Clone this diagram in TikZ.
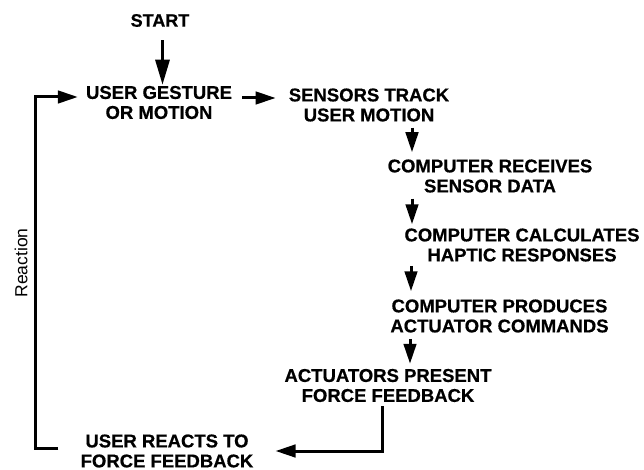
\documentclass[tikz,border=0pt]{standalone}
\usepackage{fontspec}
\setmainfont{Liberation Sans}
\newfontfamily\stagefont{Liberation Sans}[UprightFont=*-Bold, FakeBold=0.6]
\usetikzlibrary{arrows.meta}
\begin{document}
\begin{tikzpicture}[x=1pt,y=-1pt,
  stage/.style={font=\fontsize{18.5}{20}\selectfont\stagefont, align=center, inner sep=0pt},
  flow/.style={line width=3pt, -{Triangle[length=20pt,width=12.5pt]}},
  bigflow/.style={line width=3pt, -{Triangle[length=25pt,width=14pt]}}]
\useasboundingbox (0,0) rectangle (644,470);

% stages of the haptic loop
\node[stage, font=\fontsize{18}{20}\selectfont\stagefont] (start) at (160,20.5) {START};
\node[stage] (gesture)    at (159,102.5) {USER GESTURE\\OR MOTION};
\node[stage] (sensors)    at (369,105)   {SENSORS TRACK\\USER MOTION};
\node[stage] (receives)   at (490,176)   {COMPUTER RECEIVES\\SENSOR DATA};
\node[stage] (calculates) at (522,245)   {COMPUTER CALCULATES\\HAPTIC RESPONSES};
\node[stage] (produces)   at (499.5,316) {COMPUTER PRODUCES\\ACTUATOR COMMANDS};
\node[stage] (actuators)  at (388,385.5) {ACTUATORS PRESENT\\FORCE FEEDBACK};
\node[stage] (reacts)     at (167,451)   {USER REACTS TO\\FORCE FEEDBACK};
\node[rotate=90, inner sep=0pt, font=\fontsize{17.5}{20}\selectfont] (reaction) at (21,263) {Reaction};

% helper columns
\coordinate (col) at (412,0);
\coordinate (loopx) at (35,0);
\coordinate (gin) at ([xshift=-8pt,yshift=5.5pt]gesture.west);

% connectors
\draw[bigflow, shorten <=13pt, shorten >=1pt] ([xshift=2.5pt]start.south) -- ([xshift=2.5pt]start.south |- gesture.north);
\draw[flow, shorten <=10pt, shorten >=13pt] ([yshift=4.5pt]gesture.east) -- ([yshift=4.5pt]gesture.east -| sensors.west);
\draw[flow, shorten <=6pt, shorten >=7pt] (sensors.south -| col) -- (receives.north -| col);
\draw[flow, shorten <=6pt, shorten >=4pt] (receives.south -| col) -- (calculates.north -| col);
\draw[flow, shorten <=4pt, shorten >=8pt] ([xshift=-1pt]calculates.south -| col) -- ([xshift=-1pt]produces.north -| col);
\draw[flow, shorten <=6pt, shorten >=5pt] ([xshift=-2pt]produces.south -| col) -- ([xshift=-2pt]actuators.north -| col);
\draw[flow, shorten <=4pt] ([xshift=-6pt]actuators.south) |- ([xshift=22pt]reacts.east);
\draw[flow] ([xshift=-22pt,yshift=3pt]reacts.west) -| (loopx |- gin) -- (gin);
\end{tikzpicture}
\end{document}
